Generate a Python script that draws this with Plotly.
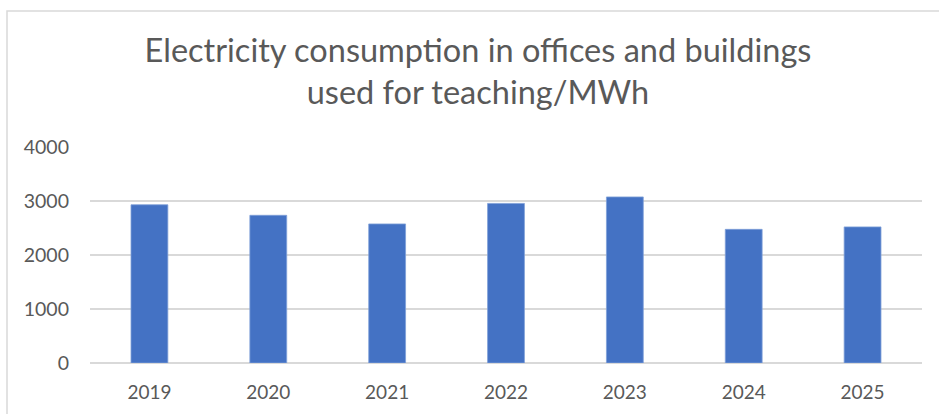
import plotly.graph_objects as go

years = ["2019", "2020", "2021", "2022", "2023", "2024", "2025"]
consumption_mwh = [2930, 2735, 2575, 2955, 3075, 2475, 2520]
y_ticks = [0, 1000, 2000, 3000, 4000]
title_text = "Electricity consumption in offices and buildings<br>used for teaching/MWh"

W, H = 939, 414
L, R, T, B = 90, 17, 147, 51
pw, ph = W - L - R, H - T - B

fig = go.Figure(go.Bar(
    x=years, y=consumption_mwh, width=0.31,
    marker=dict(color="#4472C4", line=dict(color="#7f9fd8", width=0.8)),
))

fig.update_layout(
    width=W, height=H,
    margin=dict(l=L, r=R, t=T, b=B),
    paper_bgcolor="white", plot_bgcolor="white",
    showlegend=False,
    font=dict(family="Lato, Open Sans, sans-serif", color="#595959"),
    title=dict(text=title_text, x=478 / W, xanchor="center", y=1 - 62 / H, yanchor="top",
               font=dict(size=32.5, color="#595959", family="Lato, sans-serif")),
    xaxis=dict(showgrid=False, showline=False, zeroline=False, tickfont=dict(size=19),
               ticklabelstandoff=16),
    yaxis=dict(range=[0, 4000], tickvals=y_ticks, showgrid=True, gridcolor="#d9d9d9", gridwidth=1.5,
               zeroline=True, zerolinecolor="#d9d9d9", zerolinewidth=1.5, showline=False,
               tickfont=dict(size=19.5), ticklabelstandoff=20),
    shapes=[dict(type="rect", xref="paper", yref="paper",
                 x0=(7 - L) / pw, x1=(W + 20 - L) / pw,
                 y0=-(B + 20) / ph, y1=(H - B - 11) / ph,
                 line=dict(color="#d9d9d9", width=1.5), fillcolor="rgba(0,0,0,0)", layer="below")],
)

fig.write_html("out.html", config={"displayModeBar": False},
               post_script="document.body.style.margin='0';document.body.style.padding='0';")
